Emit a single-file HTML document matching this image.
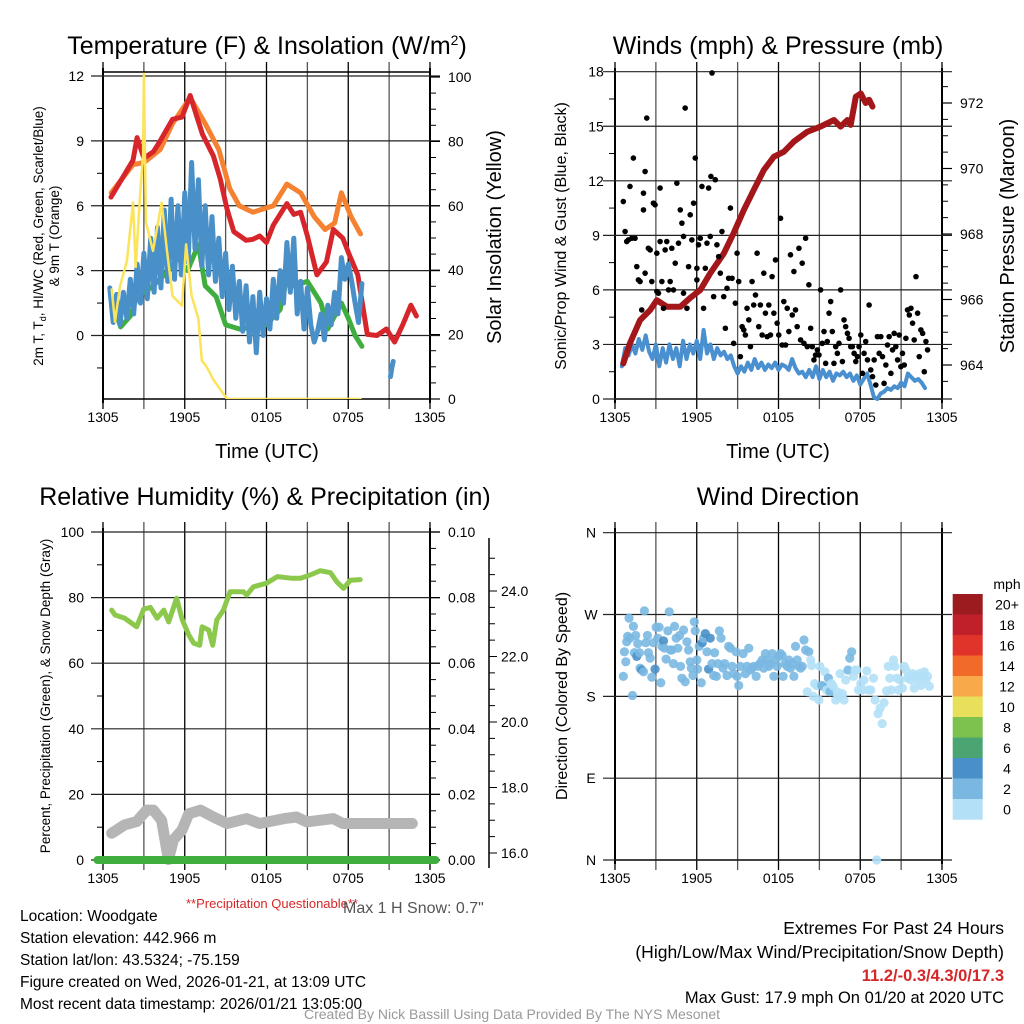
<!DOCTYPE html>
<html><head><meta charset="utf-8"><style>
html,body{margin:0;padding:0;background:#fff;width:1024px;height:1024px;overflow:hidden}
svg{display:block;font-family:"Liberation Sans",sans-serif}
</style></head><body>
<svg id="fig" width="1024" height="1024" viewBox="0 0 1024 1024">
<g id="static">
<text x="267" y="54" font-size="25" text-anchor="middle">Temperature (F) &amp; Insolation (W/m<tspan dy="-9" font-size="14">2</tspan><tspan dy="9">)</tspan></text>
<text x="778" y="54" font-size="25" text-anchor="middle">Winds (mph) &amp; Pressure (mb)</text>
<text x="265" y="505" font-size="25" text-anchor="middle">Relative Humidity (%) &amp; Precipitation (in)</text>
<text x="778" y="505" font-size="25" text-anchor="middle">Wind Direction</text>
<text x="267" y="458" font-size="20" text-anchor="middle">Time (UTC)</text>
<text x="778" y="458" font-size="20" text-anchor="middle">Time (UTC)</text>
<text transform="translate(43,236) rotate(-90)" font-size="13.5" text-anchor="middle">2m T, T<tspan font-size="9" dy="3">d</tspan><tspan dy="-3">, HI/WC (Red, Green, Scarlet/Blue)</tspan></text>
<text transform="translate(59,236) rotate(-90)" font-size="13.5" text-anchor="middle">&amp; 9m T (Orange)</text>
<text transform="translate(501,237) rotate(-90)" font-size="20" text-anchor="middle">Solar Insolation (Yellow)</text>
<text transform="translate(566,236) rotate(-90)" font-size="16" text-anchor="middle">Sonic/Prop Wind &amp; Gust (Blue, Black)</text>
<text transform="translate(1014,236) rotate(-90)" font-size="20" text-anchor="middle">Station Pressure (Maroon)</text>
<text transform="translate(50,696) rotate(-90)" font-size="13.5" text-anchor="middle">Percent, Precipitation (Green), &amp; Snow Depth (Gray)</text>
<text transform="translate(567,696) rotate(-90)" font-size="16" text-anchor="middle">Direction (Colored By Speed)</text>
<text x="186" y="908" font-size="13" fill="#d62728">**Precipitation Questionable**</text>
<text x="343" y="913" font-size="16" fill="#555">Max 1 H Snow: 0.7"</text>
<g font-size="15.5">
<text x="20" y="921">Location: Woodgate</text>
<text x="20" y="943">Station elevation: 442.966 m</text>
<text x="20" y="965">Station lat/lon: 43.5324; -75.159</text>
<text x="20" y="987">Figure created on Wed, 2026-01-21, at 13:09 UTC</text>
<text x="20" y="1009">Most recent data timestamp: 2026/01/21 13:05:00</text>
</g>
<g font-size="17.5" text-anchor="end">
<text x="1004" y="934">Extremes For Past 24 Hours</text>
<text x="1004" y="958">(High/Low/Max Wind/Precipitation/Snow Depth)</text>
<text x="1004" y="981" fill="#d62728" font-weight="bold" font-size="16.5">11.2/-0.3/4.3/0/17.3</text>
<text x="1004" y="1003" font-size="16.5">Max Gust: 17.9 mph On 01/20 at 2020 UTC</text>
</g>
<text x="512" y="1019" font-size="14" fill="#999" text-anchor="middle">Created By Nick Bassill Using Data Provided By The NYS Mesonet</text>
</g>
</svg>
<script>
// ---------- DATA ----------
const timeTicks = [0, 6, 12, 18, 24];
const timeLabels = ["1305", "1905", "0105", "0705", "1305"];
// Temperature panel
const redT = [0.59,2.2,2.5,3,3.7,4.2,5.1,5.8,6.4,6.9,7.3,8.1,8.6,9.1,9.6,10.5,11,11.5,12,12.5,13.5,14,14.5,15,15.7,16.4,16.9,17.6,18.1,18.7,19.4,20.1,20.8,21.4,22,22.6,23];
const redV = [6.4,8.1,9.15,8.2,8.5,9.0,10.0,10.1,11.1,10.1,9.3,8.3,7.25,5.85,4.8,4.4,4.45,4.6,4.3,5.1,6.1,5.6,5.7,4.6,2.8,3.4,4.9,4.5,3.7,2.8,0.05,0,0.3,-0.3,0.5,1.4,0.9];
const orangeT = [0.6,2.2,3,4.2,5.1,6.4,7.5,8.5,9.3,10,11,12,12.5,13.5,14.5,15.5,16.3,17,17.5,18.2,18.9];
const orangeV = [6.6,7.9,8.0,8.6,9.8,11.0,9.8,8.6,6.8,6.0,5.7,5.9,6.0,7.0,6.6,5.5,4.9,5.2,6.6,5.5,4.7];
const greenT = [0.7,1.3,2,2.5,3.5,4.5,5.5,6.2,7,7.5,8.3,9,10,11,12,13,13.5,14,15,16,16.5,17.5,18,18.5,19];
const greenV = [1.5,0.4,0.9,1.8,2.2,2.8,3.6,3.0,4.2,2.3,1.8,0.5,0.3,0.4,0.5,1.2,2.7,2.3,2.5,1.5,0.3,1.5,0.8,0.0,-0.5];
const blueStart = 0.5, blueStep = 0.25;
const blueV = [2.2,0.6,1.9,0.5,2.0,0.8,2.6,1.0, 3.3,1.5,3.8,1.7,4.5,2.0,5.0,2.2, 5.8,2.5,6.3,2.6,6.0,2.8,6.6,3.4, 8.0,4.0,7.2,3.2,6.0,2.8,5.5,2.5, 4.5,1.8,3.8,1.2,3.2,0.8,2.5,0.2, 2.3,-0.3,1.8,-0.8,2.0,0.0,1.7,0.3, 2.6,0.8,3.0,1.5,4.3,2.0,4.5,1.0, 2.5,0.3,2.2,0.5,-0.3,0.2,1.0,-0.2, 1.4,0.5,2.0,1.0,3.6,2.6,3.3,2.5, 1.5,0.6,2.4];
const blueLateT = [21.1,21.2,21.3];
const blueLateV = [-1.9,-1.5,-1.2];
const solarT = [0.64,0.88,1.25,1.76,2.2,2.4,2.7,2.94,3.0,3.15,3.67,4.3,4.7,5.1,5.8,6.1,6.5,7.0,7.25,7.6,8.1,9.1,18.9];
const solarV = [34,24,35,43,61,41,62,76,101,55,46,61,46,32,29,48,32,25,12,10,6,0,0];
// Winds panel
const gustT = [0.61,0.74,0.86,0.98,1.10,1.23,1.35,1.47,1.60,1.72,1.84,1.96,2.09,2.09,2.21,2.21,2.33,2.45,2.58,2.70,2.82,2.94,3.07,3.07,3.19,3.31,3.31,3.44,3.56,3.68,3.80,3.93,4.05,4.17,4.29,4.42,4.54,4.66,4.79,4.91,5.03,5.03,5.15,5.28,5.40,5.52,5.64,5.77,5.89,6.01,6.01,6.13,6.26,6.38,6.50,6.63,6.75,6.87,6.99,7.04,7.12,7.24,7.36,7.48,7.61,7.73,7.85,7.98,8.10,8.22,8.34,8.47,8.59,8.71,8.83,8.96,9.08,9.20,9.33,9.45,9.57,9.69,9.82,9.94,10.06,10.18,10.31,10.43,10.55,10.67,10.80,10.92,11.04,11.17,11.29,11.41,11.53,11.66,11.78,11.90,12.02,12.15,12.27,12.39,12.52,12.64,12.76,12.88,13.01,13.13,13.25,13.37,13.50,13.62,13.74,13.87,13.99,14.11,14.23,14.36,14.48,14.60,14.72,14.85,14.97,15.09,15.21,15.34,15.46,15.58,15.71,15.83,15.95,16.07,16.20,16.32,16.44,16.56,16.69,16.81,16.93,17.06,17.18,17.30,17.42,17.55,17.67,17.79,17.91,18.04,18.16,18.28,18.40,18.53,18.65,18.77,18.90,19.02,19.14,19.26,19.39,19.51,19.63,19.75,19.88,20.00,20.12,20.25,20.37,20.49,20.61,20.74,20.86,20.98,21.10,21.23,21.35,21.47,21.60,21.72,21.84,21.96,22.09,22.21,22.33,22.45,22.58,22.70,22.82,22.94];
const gustV = [10.86,9.21,8.66,8.75,11.69,8.84,13.25,8.84,7.28,6.55,6.46,4.90,11.32,10.40,12.51,6.92,15.45,8.29,8.20,6.46,10.77,10.68,8.02,5.91,5.82,11.60,8.66,6.46,4.99,8.20,8.66,6.00,6.46,8.29,6.00,7.47,11.87,8.57,10.40,9.67,8.94,5.82,16.0,4.99,7.28,10.13,8.75,10.77,13.25,7.19,6.55,8.48,8.84,11.69,4.99,7.19,8.57,11.60,8.94,12.24,17.93,5.63,12.06,8.48,7.83,6.92,9.21,5.63,3.89,6.09,6.64,10.50,6.64,3.06,5.27,8.02,6.46,2.33,3.98,3.80,3.52,4.99,4.35,2.88,6.46,5.17,5.72,8.02,3.98,5.17,3.52,6.92,4.72,3.43,5.17,3.52,6.73,4.72,7.65,4.17,3.52,9.94,2.97,5.36,2.97,4.99,3.71,7.93,4.62,7.01,4.90,3.98,8.29,3.25,7.47,3.06,8.84,2.88,6.28,3.89,2.88,2.15,2.42,2.70,2.42,6.00,3.06,3.71,1.96,3.16,4.72,5.36,3.71,1.96,2.88,2.51,3.06,6.00,2.06,4.35,3.98,3.61,3.34,2.88,2.88,2.51,2.06,2.33,2.88,3.52,1.41,2.51,3.16,2.15,5.17,1.60,1.23,2.15,0.77,3.43,2.51,3.43,2.33,0.86,1.87,2.97,3.43,1.41,2.70,3.61,2.88,2.15,3.52,1.78,2.51,1.87,3.34,4.90,4.62,4.99,4.17,3.25,6.73,4.72,2.33,3.80,3.61,1.50,3.16,2.70];
const windStart = 0.5, windStep = 0.25;
const windV = [1.8,2.8,2.4,3.0,2.5,3.3,2.7,3.5, 2.6,2.2,3.0,1.8,2.8,2.0,3.0,2.2, 2.8,1.8,3.2,2.2,3.0,2.5,3.2,2.2, 3.8,2.5,3.0,2.2,2.8,2.4,2.6,2.2, 2.4,1.8,1.4,1.8,1.5,2.0,1.6,2.2, 1.7,2.0,1.6,1.9,1.7,2.0,1.6,1.9, 1.8,1.6,2.2,1.7,1.4,1.5,1.2,1.6, 1.2,1.8,1.1,1.6,1.2,1.5,1.0,1.4, 1.3,1.5,1.2,1.4,1.0,1.3,0.8,1.1, 1.4,0.8,0.1,0.0,0.3,0.4,0.6,0.5, 0.7,0.6,0.9,0.7,1.4,1.2,1.0,1.1, 0.9,0.6];
const presT = [0.61,1.1,1.84,2.58,3.07,3.8,4.79,5.52,6.26,6.99,7.98,8.71,9.45,10.18,10.92,11.66,12.39,13.13,14.11,15.09,16.07,16.56,17.06,17.3,17.67,18.04,18.4,18.65,18.9];
const presV = [964.05,964.67,965.37,965.68,965.98,965.78,965.78,966.05,966.29,966.8,967.4,968.03,968.73,969.34,969.95,970.36,970.51,970.82,971.12,971.28,971.48,971.28,971.48,971.33,972.19,972.29,972.0,972.1,971.89];
// Humidity panel
const rhT = [0.64,0.88,1.6,2.47,2.99,3.48,3.97,4.46,4.82,5.4,5.82,6.3,6.66,7.1,7.27,7.76,8.05,8.35,8.84,9.33,10.3,10.55,11.04,12.0,12.8,13.8,14.5,15.2,15.95,16.7,17.17,17.66,18.15,18.88];
const rhV = [76.2,74.7,73.7,71.1,76.5,77,73.7,76.2,72.6,79.8,73.2,68.6,66.1,65.5,71.1,70.1,65.5,73.2,76.2,81.8,81.8,80.8,83.3,84.4,86.4,85.9,85.9,86.9,88.2,87.6,84.8,82.8,85.3,85.5];
const snowT = [0.64,1.6,2.47,3.2,3.7,4.3,4.8,5.17,5.8,6.3,7.15,8.1,9.1,10.55,11.5,13.3,14.2,14.95,16.9,17.6,22.7];
const snowV = [16.6,16.86,16.96,17.31,17.31,17.0,15.8,16.4,16.7,17.2,17.31,17.1,16.9,17.05,16.9,17.05,17.1,16.95,17.05,16.9,16.9];
const precipT = [-0.4,24.4];
const precipV = [0,0];
// Direction panel
const dirT = [0.61,0.69,0.79,0.86,0.93,1.03,1.10,1.28,1.35,1.42,1.52,1.60,1.67,1.79,1.84,1.96,2.09,2.16,2.26,2.38,2.45,2.58,2.70,2.82,2.94,3.02,3.14,3.24,3.36,3.44,3.56,3.63,3.75,3.88,3.98,4.07,4.17,4.29,4.37,4.49,4.61,4.74,4.81,4.91,5.03,5.15,5.28,5.40,5.52,5.60,5.72,5.82,5.89,6.01,6.06,6.18,6.33,6.40,6.50,6.63,6.75,6.87,6.99,7.12,7.24,7.31,7.44,7.56,7.66,7.78,7.93,8.05,8.22,8.34,8.47,8.59,8.71,8.88,8.96,9.08,9.20,9.40,9.57,9.69,9.82,9.94,10.06,10.18,10.36,10.48,10.63,10.80,10.92,11.04,11.17,11.29,11.41,11.53,11.66,11.78,11.90,12.02,12.15,12.27,12.34,12.47,12.64,12.76,12.88,13.01,13.13,13.25,13.37,13.50,13.62,13.74,13.87,13.99,14.11,14.23,14.36,14.43,14.55,14.65,14.80,14.97,15.04,15.17,15.29,15.41,15.53,15.66,15.78,15.88,16.02,16.20,16.32,16.44,16.52,16.69,16.81,16.93,17.10,17.23,17.37,17.50,17.62,17.74,17.87,18.04,18.16,18.28,18.48,18.60,18.77,18.97,19.09,19.21,19.31,19.46,19.61,19.75,19.93,20.05,20.17,20.29,20.44,20.54,20.69,20.81,20.93,21.10,21.23,21.35,21.47,21.60,21.72,21.84,21.96,22.09,22.21,22.33,22.45,22.58,22.70,22.82,22.94,23.07];
const dirV = [202,229,218,240,246,266,244,181,257,228,247,224,238,228,211,209,207,274,239,247,228,222,201,239,210,256,244,256,195,235,241,233,221,252,273,231,231,216,257,244,233,247,213,200,253,196,240,231,218,211,203,262,252,220,210,235,195,239,244,249,229,210,244,216,203,228,202,216,252,244,211,216,203,235,233,213,205,229,202,192,213,227,205,213,233,209,211,213,202,213,216,220,211,227,220,213,216,227,202,220,213,224,227,225,202,216,213,220,211,216,202,235,220,213,211,213,242,231,185,229,220,214,180,194,192,176,213,192,191,207,187,200,185,194,191,176,185,180,205,183,176,198,209,222,229,202,209,209,187,194,187,198,208,187,187,200,176,0,161,167,150,173,186,213,200,187,220,213,200,187,198,189,213,209,200,202,198,205,189,202,198,205,192,202,207,198,202,191];
const dirSpeedA = [3,3,3,3,3,3,3,3,3,3,3,5,3,3,3,5,3,3,3,3,3,3,3,3,5,3,3,3,3,3,5,3,3,3,3,3,3,3,3,3,3,3,3,3,3,3,3,3,3,3,3,3,3,3,3,3,3,5,3,5,3,5,5,3,3,3,3,3,3,3,3,3,3,3,3,3,3,3,3,3,3,3,3,3,3,3,3,3,3,3,3,3,3,3,3,3,3,3,3,3,3,3,3,3,3,3,3,3,3,3,3,3,3,3,3,3,3,3];
const dirSpeedB = [1,3,1,1,1,1,1,1,1,3,3,1,1,3,3,1,1,1,1,1,1,1,1,1,3,3,3,1,1,1,1,1,1,1,1,1,1,1,1,1,1,1,1,1,1,1,1,1,1,1,1,1,1,1,1,1,1,1,1,1,1,1,1,1,1,1,1,1,1,1,1,1,1,1];
const speedBins = [0,2,4,6,8,10,12,14,16,18,20];
const binColors = ["#b3e0f7","#7ab8e2","#4a90c8","#4aa572","#7dc24e","#e8e05a","#f8a94a","#f26a2a","#e0342a","#c0202a","#9b1b1e"];
const legendLabels = ["0","2","4","6","8","10","12","14","16","18","20+"];

// ---------- DRAW ----------
const NS = "http://www.w3.org/2000/svg";
const svg = document.getElementById('fig');
function mk(tag, attrs, parent) {
  const e = document.createElementNS(NS, tag);
  for (const k in attrs) e.setAttribute(k, attrs[k]);
  (parent || svg).appendChild(e);
  return e;
}
function lin(d0, d1, r0, r1) { return v => r0 + (v - d0) * (r1 - r0) / (d1 - d0); }

function panelFrame(P, name) {
  const g = mk('g', {});
  
  
  for (let h = 0; h <= 24; h += 3) {
    const x = P.x(h);
    const l = mk('line', {x1: x, x2: x, y1: P.top - 10, y2: P.bot + 10, stroke: (h % 6 ? '#555' : '#000'), 'stroke-width': 1.3}, g);
    
    
  }
  for (let i = 0; i < timeTicks.length; i++) {
    const t = mk('text', {x: P.x(timeTicks[i]), y: P.bot + 23, 'font-size': 14, 'text-anchor': 'middle'}, g);
    t.textContent = timeLabels[i];
    
    
  }
  mk('line', {x1: P.left, x2: P.left, y1: P.top - 4, y2: P.bot + 4, stroke: '#000', 'stroke-width': 2}, g);
  mk('line', {x1: P.right, x2: P.right, y1: P.top - 4, y2: P.bot + 4, stroke: '#000', 'stroke-width': 2}, g);
  mk('line', {x1: P.left, x2: P.right, y1: P.bot, y2: P.bot, stroke: '#000', 'stroke-width': 1.5}, g);
  return g;
}
function hgrid(g, P, y, label, lx, anchor) {
  const l = mk('line', {x1: P.left - 12, x2: P.right + 10, y1: y, y2: y, stroke: '#222', 'stroke-width': 1.2}, g);
  
  
  if (label !== null) {
    const t = mk('text', {x: lx, y: y + 5, 'font-size': 14, 'text-anchor': anchor}, g);
    t.textContent = label;
    
    
  }
}
function rlabel(g, x, y, label) {
  mk('line', {x1: x - 10, x2: x, y1: y, y2: y, stroke: '#000', 'stroke-width': 1.2}, g);
  const t = mk('text', {x: x + 8, y: y + 5, 'font-size': 14}, g);
  t.textContent = label;
  
  
}
function pathOf(T, V, fx, fy) {
  let d = '';
  for (let i = 0; i < T.length; i++) d += (i ? 'L' : 'M') + fx(T[i]).toFixed(1) + ',' + fy(V[i]).toFixed(1);
  return d;
}
function line(T, V, fx, fy, color, w, name, parent) {
  const p = mk('path', {d: pathOf(T, V, fx, fy), fill: 'none', stroke: color, 'stroke-width': w, 'stroke-linejoin': 'round', 'stroke-linecap': 'round'}, parent);
  
  
  return p;
}
function seqT(start, step, n) { const a = []; for (let i = 0; i < n; i++) a.push(start + i * step); return a; }

// Panel 1: temperature
const P1 = {left: 103, right: 430, top: 72, bot: 399};
P1.x = lin(0, 24, P1.left, P1.right);
const tY = lin(0, 12, 335.5, 76);
const sY = lin(0, 100, 399, 77);
const g1 = panelFrame(P1, 'temperature-panel');
mk('line', {x1: P1.left, x2: P1.right, y1: 72, y2: 72, stroke: '#000', 'stroke-width': 1.5}, g1);
[0, 3, 6, 9, 12].forEach(v => hgrid(g1, P1, tY(v), String(v), 84, 'end'));
[-1.5, 1.5, 4.5, 7.5, 10.5].forEach(v => mk('line', {x1: P1.left - 6, x2: P1.left, y1: tY(v), y2: tY(v), stroke: '#000'}, g1));
for (let v = 0; v <= 100; v += 5) {
  const y = sY(v);
  if (v % 20 === 0) rlabel(g1, P1.right + 10, y, String(v));
  else mk('line', {x1: P1.right, x2: P1.right + 6, y1: y, y2: y, stroke: '#000'}, g1);
}
const clip1 = mk('clipPath', {id: 'c1'}); mk('rect', {x: P1.left, y: 60, width: P1.right - P1.left, height: P1.bot - 60}, clip1);
const s1 = mk('g', {'clip-path': 'url(#c1)'});
line(orangeT, orangeV, P1.x, tY, '#f58231', 5, 'orange-9m-temp-line', s1);
line(redT, redV, P1.x, tY, '#d7262b', 5, 'red-2m-temp-line', s1);
line(greenT, greenV, P1.x, tY, '#3fae3f', 5, 'green-dewpoint-line', s1);
line(seqT(blueStart, blueStep, blueV.length), blueV, P1.x, tY, '#4a90c8', 5, 'blue-windchill-line', s1);
line(blueLateT, blueLateV, P1.x, tY, '#4a90c8', 5, 'blue-windchill-late-segment', s1);
line(solarT, solarV, P1.x, sY, '#fbe35a', 2.5, 'yellow-insolation-line', s1);

// Panel 2: winds
const P2 = {left: 615, right: 942, top: 72, bot: 399};
P2.x = lin(0, 24, P2.left, P2.right);
const wY = lin(0, 18, 399, 71.7);
const pY = lin(964, 972, 365, 103);
const g2 = panelFrame(P2, 'winds-panel');
[0, 3, 6, 9, 12, 15, 18].forEach(v => hgrid(g2, P2, wY(v), String(v), 596, 'middle'));
[1.5, 4.5, 7.5, 10.5, 13.5, 16.5].forEach(v => mk('line', {x1: P2.left - 6, x2: P2.left, y1: wY(v), y2: wY(v), stroke: '#000'}, g2));
for (let v = 963.5; v <= 972.6; v += 0.5) {
  const y = pY(v);
  if (Math.abs(v % 2) < 0.01) rlabel(g2, P2.right + 10, y, String(v));
  else mk('line', {x1: P2.right, x2: P2.right + 6, y1: y, y2: y, stroke: '#000'}, g2);
}
const clip2 = mk('clipPath', {id: 'c2'}); mk('rect', {x: P2.left, y: 60, width: P2.right - P2.left, height: P2.bot - 58}, clip2);
const s2 = mk('g', {'clip-path': 'url(#c2)'});
line(seqT(windStart, windStep, windV.length), windV, P2.x, wY, '#4a90d0', 4, 'blue-sonic-wind-line', s2);
line(presT, presV, P2.x, pY, '#a3171b', 6, 'maroon-pressure-line', s2);
for (let i = 0; i < gustT.length; i++) {
  const c = mk('circle', {cx: P2.x(gustT[i]), cy: wY(gustV[i]), r: 2.8, fill: '#000'}, s2);
  
  
}

// Panel 3: humidity
const P3 = {left: 103, right: 430, top: 532, bot: 860};
P3.x = lin(0, 24, P3.left, P3.right);
const rY = lin(0, 100, 860, 532);
const nY = lin(16, 24, 853, 591);
const g3 = panelFrame(P3, 'humidity-panel');
[0, 20, 40, 60, 80, 100].forEach(v => hgrid(g3, P3, rY(v), String(v), 84, 'end'));
[10, 30, 50, 70, 90].forEach(v => mk('line', {x1: P3.left - 6, x2: P3.left, y1: rY(v), y2: rY(v), stroke: '#000'}, g3));
for (let v = 0; v <= 100; v += 5) {
  const y = rY(v);
  if (v % 20 === 0) rlabel(g3, P3.right + 10, y, (v / 1000).toFixed(2));
  else mk('line', {x1: P3.right, x2: P3.right + 6, y1: y, y2: y, stroke: '#000'}, g3);
}
mk('line', {x1: 489, x2: 489, y1: 538, y2: 868, stroke: '#000', 'stroke-width': 1.5}, g3);
for (let v = 16; v <= 25; v += 0.5) {
  const y = nY(v);
  if (v % 2 === 0) {
    mk('line', {x1: 489, x2: 497, y1: y, y2: y, stroke: '#000'}, g3);
    const t = mk('text', {x: 501, y: y + 5, 'font-size': 14}, g3);
    t.textContent = v.toFixed(1);
    
    
  } else mk('line', {x1: 489, x2: 495, y1: y, y2: y, stroke: '#000'}, g3);
}
line(snowT, snowV, P3.x, nY, '#b5b5b5', 11, 'gray-snow-depth-line', g3);
line(rhT, rhV, P3.x, rY, '#8cc84b', 5, 'green-humidity-line', g3);
line(precipT, precipV, P3.x, rY, '#3fae3f', 8, 'green-precipitation-line', g3);

// Panel 4: direction
const P4 = {left: 615, right: 942, top: 532, bot: 860};
P4.x = lin(0, 24, P4.left, P4.right);
const dY = lin(0, 360, 860, 532.7);
const g4 = panelFrame(P4, 'direction-panel');
const compass = ["N", "E", "S", "W", "N"];
[0, 90, 180, 270, 360].forEach((v, i) => hgrid(g4, P4, dY(v), compass[i], 591, 'middle'));
const dirSpeed = dirSpeedA.concat(dirSpeedB);
function binColor(s) { let k = 0; for (let i = 0; i < speedBins.length; i++) if (s >= speedBins[i]) k = i; return binColors[k]; }
for (let i = 0; i < dirT.length; i++) {
  const c = mk('circle', {cx: P4.x(dirT[i]), cy: dY(dirV[i]), r: 4.6, fill: binColor(dirSpeed[i] || 1), 'fill-opacity': 0.9}, g4);
  
  
}
// legend
const lg = mk('g', {});


const mt = mk('text', {x: 1007, y: 589, 'font-size': 14, 'text-anchor': 'middle'}, lg); mt.textContent = 'mph';
for (let i = 0; i < binColors.length; i++) {
  const k = binColors.length - 1 - i;
  const y = 594 + i * 20.5;
  const r = mk('rect', {x: 952.7, y: y, width: 30, height: 20.7, fill: binColors[k]}, lg);
  
  
  const t = mk('text', {x: 1007, y: y + 15.5, 'font-size': 14, 'text-anchor': 'middle'}, lg);
  t.textContent = legendLabels[k];
  
  
}
</script>
</body></html>
